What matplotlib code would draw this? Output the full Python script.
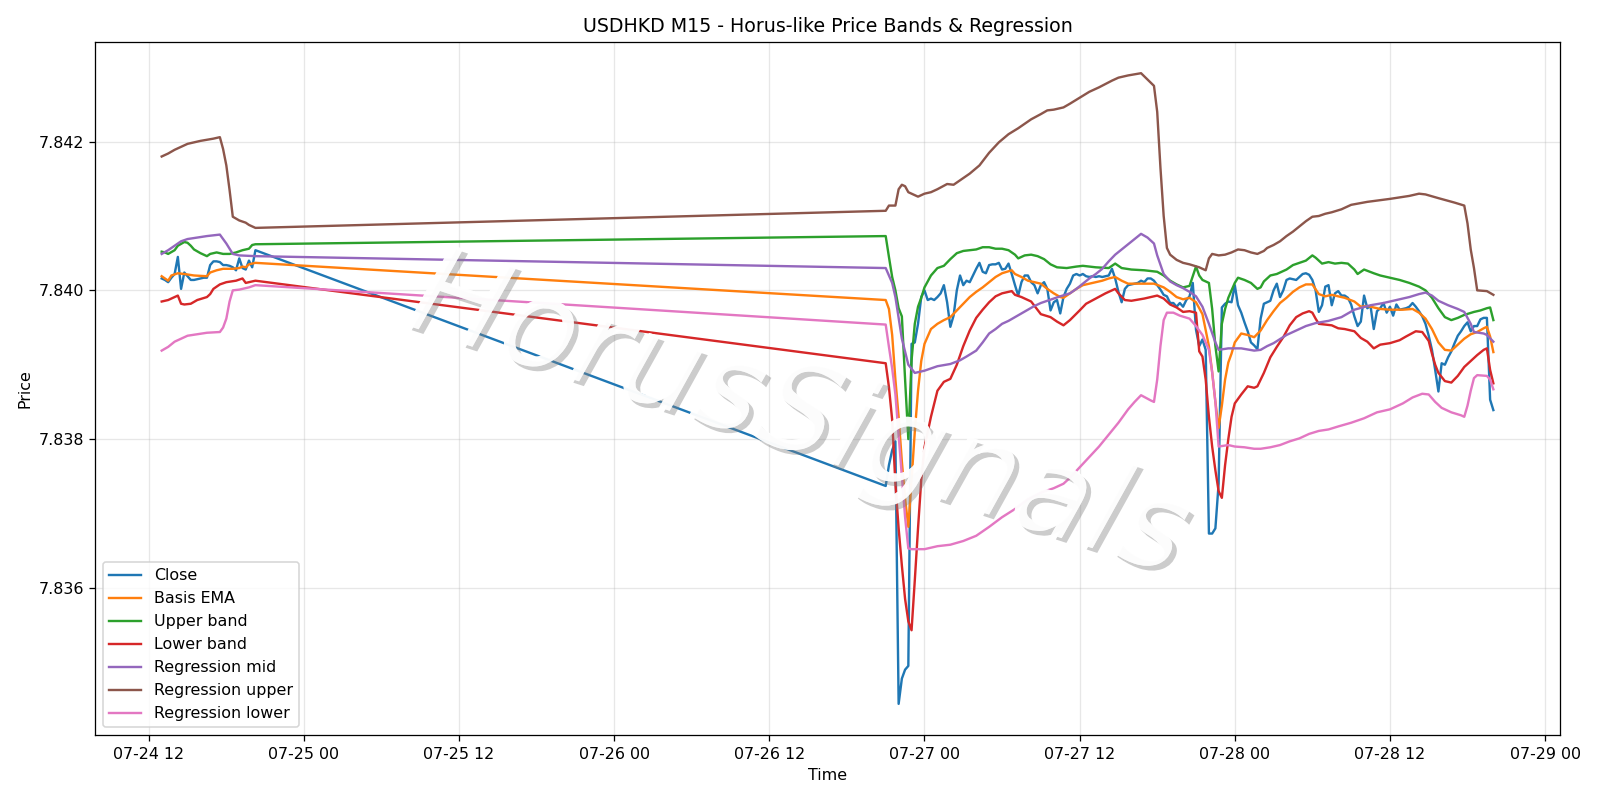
"""
USDHKD M15 - price bands & regression channel (Horus-like)
"""
import numpy as np
import pandas as pd
import matplotlib
matplotlib.use('Agg')
import matplotlib.pyplot as plt
import matplotlib.dates as mdates
import matplotlib.patheffects as pe
from matplotlib.ticker import MultipleLocator, ScalarFormatter

# 起点: 所有时间以 2025-07-24 00:00 起算的小时数
BASE = pd.Timestamp("2025-07-24")

# ---- Close (M15), two sessions ----
close_s1_start = 13.0
close_s1 = [7.84016, 7.84014, 7.84011, 7.84017, 7.84022, 7.84045, 7.84002, 7.84024, 7.84019, 7.84014,
            7.84014, 7.84015, 7.84016, 7.84017, 7.84017, 7.84034, 7.84039, 7.84039, 7.84038, 7.84034,
            7.84034, 7.84033, 7.84031, 7.84027, 7.84043, 7.84030, 7.84028, 7.84040, 7.84031, 7.84054]
close_s2_start = 69.0
close_s2 = [7.83737, 7.83765, 7.83785, 7.83797, 7.83444, 7.83478, 7.83490, 7.83495,
            7.83928, 7.83930, 7.83955, 7.83991, 7.84000, 7.83987, 7.83989, 7.83987,
            7.83991, 7.83996, 7.84007, 7.83984, 7.83951, 7.83966, 7.84000, 7.84020,
            7.84007, 7.84013, 7.84011, 7.84020, 7.84029, 7.84037, 7.84025, 7.84023,
            7.84034, 7.84035, 7.84035, 7.84037, 7.84028, 7.84029, 7.84036, 7.84022,
            7.84007, 7.83993, 7.84011, 7.84020, 7.84020, 7.84011, 7.84007, 7.83996,
            7.84007, 7.84011, 7.84002, 7.83973, 7.83984, 7.83987, 7.83969, 7.83991,
            7.84002, 7.84009, 7.84020, 7.84022, 7.84020, 7.84022, 7.84019, 7.84018,
            7.84019, 7.84018, 7.84019, 7.84018, 7.84019, 7.84020, 7.84029, 7.84016,
            7.83998, 7.83984, 7.84002, 7.84007, 7.84008, 7.84009, 7.84010, 7.84013,
            7.84011, 7.84016, 7.84016, 7.84013, 7.84007, 7.84001, 7.83994, 7.83992,
            7.83983, 7.83983, 7.83978, 7.83983, 7.83978, 7.83987, 7.83992, 7.84010,
            7.83947, 7.83925, 7.83934, 7.83920, 7.83673, 7.83673, 7.83680, 7.83740,
            7.83977, 7.83982, 7.83985, 7.83984, 7.84007, 7.83980, 7.83970, 7.83957,
            7.83945, 7.83930, 7.83926, 7.83921, 7.83962, 7.83982, 7.83984, 7.83986,
            7.84000, 7.84009, 7.83991, 7.84000, 7.84014, 7.84016, 7.84015, 7.84014,
            7.84018, 7.84022, 7.84023, 7.84021, 7.84014, 7.84000, 7.83971, 7.83980,
            7.84005, 7.84007, 7.83980, 7.83996, 7.83999, 7.83993, 7.83993, 7.83990,
            7.83981, 7.83965, 7.83952, 7.83958, 7.83993, 7.83976, 7.83979, 7.83948,
            7.83972, 7.83976, 7.83983, 7.83970, 7.83978, 7.83966, 7.83981, 7.83974,
            7.83975, 7.83976, 7.83978, 7.83983, 7.83978, 7.83972, 7.83965, 7.83955,
            7.83939, 7.83920, 7.83893, 7.83864, 7.83902, 7.83900, 7.83910, 7.83918,
            7.83929, 7.83939, 7.83945, 7.83952, 7.83957, 7.83945, 7.83952, 7.83952,
            7.83961, 7.83963, 7.83963, 7.83853, 7.83839]

# ---- Basis EMA ----
ema_h = [13.0, 13.5, 13.75, 14.25, 14.75, 15.5, 16.5, 16.75, 17.25, 17.75, 18.5, 19.0, 19.25, 19.5, 19.75, 20.25,
         69.0, 69.25, 69.5, 69.75, 70.0, 70.25, 70.5, 70.75, 71.0, 71.25, 71.5, 71.75, 72.0, 72.5, 73.0,
         73.5, 74.0, 74.5, 75.0, 75.5, 76.0, 76.5, 77.0, 77.5, 78.0, 78.75, 79.0, 79.5, 80.0, 81.0, 81.5,
         82.0, 82.5, 82.75, 83.25, 83.75, 84.25, 84.75, 85.25, 85.75, 86.25, 86.75, 87.25, 87.75, 88.75,
         89.75, 90.5, 91.0, 91.5, 92.0, 92.5, 93.0, 93.5, 94.0, 94.25, 94.5, 94.75, 95.0, 95.25, 95.5,
         95.75, 96.0, 96.5, 97.0, 97.5, 98.0, 98.5, 99.0, 99.5, 100.0, 100.5, 101.0, 101.5, 102.0, 102.5,
         103.0, 103.5, 104.0, 104.5, 105.25, 105.75, 106.25, 107.25, 108.0, 109.0, 109.75, 110.25, 110.75,
         111.25, 111.75, 112.25, 112.75, 113.25, 113.75, 114.25, 114.75, 115.25, 115.5, 115.75, 116.0]
ema_v = [7.84019, 7.84013, 7.84020, 7.84023, 7.84022, 7.84020, 7.84019, 7.84024, 7.84027, 7.84029,
         7.84029, 7.84030, 7.84032, 7.84031, 7.84035, 7.84037,
         7.83987, 7.83975, 7.83940, 7.83880, 7.83830, 7.83770, 7.83720, 7.83682, 7.83745, 7.83810,
         7.83865, 7.83905, 7.83928, 7.83948, 7.83955, 7.83960, 7.83964, 7.83973, 7.83982, 7.83991,
         7.83998, 7.84004, 7.84011, 7.84018, 7.84023, 7.84027, 7.84022, 7.84018, 7.84013, 7.84009,
         7.84002, 7.83996, 7.83991, 7.83990, 7.83996, 7.84002, 7.84007, 7.84009, 7.84011, 7.84013,
         7.84016, 7.84018, 7.84013, 7.84009, 7.84009, 7.84009, 7.84004, 7.83998, 7.83991, 7.83988,
         7.83990, 7.83984, 7.83968, 7.83925, 7.83890, 7.83850, 7.83815, 7.83845, 7.83880, 7.83903,
         7.83915, 7.83930, 7.83942, 7.83940, 7.83937, 7.83946, 7.83960, 7.83972, 7.83983, 7.83990,
         7.83998, 7.84004, 7.84008, 7.84008, 7.83995, 7.83992, 7.83994, 7.83992, 7.83990, 7.83985,
         7.83978, 7.83979, 7.83975, 7.83974, 7.83974, 7.83975, 7.83970, 7.83962, 7.83948, 7.83930,
         7.83920, 7.83919, 7.83927, 7.83935, 7.83941, 7.83944, 7.83949, 7.83951, 7.83938, 7.83917]

# ---- Upper band ----
upper_h = [13.0, 13.25, 13.5, 14.0, 14.25, 14.75, 15.0, 15.25, 15.5, 16.0, 16.5, 16.75, 17.25, 17.75,
           18.25, 18.75, 19.25, 19.75, 20.0, 20.25,
           69.0, 69.25, 69.5, 69.75, 70.0, 70.25, 70.5, 70.75, 71.0, 71.25, 71.5, 71.75, 72.0, 72.5,
           73.0, 73.5, 74.0, 74.5, 75.0, 75.5, 76.0, 76.5, 77.0, 77.5, 78.0, 78.5, 79.0, 79.25, 79.75,
           80.25, 80.75, 81.25, 81.75, 82.25, 83.0, 83.75, 84.25, 85.25, 86.25, 86.75, 87.25, 88.0,
           89.0, 90.0, 90.5, 91.0, 91.5, 92.0, 92.5, 93.0, 93.25, 93.5, 94.0, 94.25, 94.5, 94.75, 95.0,
           95.25, 95.5, 96.0, 96.25, 96.75, 97.25, 97.75, 98.0, 98.25, 98.75, 99.25, 100.0, 100.5,
           101.0, 101.5, 102.0, 102.25, 102.75, 103.25, 103.75, 104.25, 104.75, 105.25, 105.5, 106.0,
           106.75, 107.25, 108.0, 108.75, 109.5, 110.25, 110.75, 111.25, 111.75, 112.25, 112.75,
           113.25, 113.75, 114.5, 115.0, 115.5, 115.75, 116.0]
upper_v = [7.84052, 7.84051, 7.84049, 7.84054, 7.84060, 7.84065, 7.84064, 7.84060, 7.84055, 7.84050,
           7.84046, 7.84049, 7.84051, 7.84049, 7.84049, 7.84051, 7.84054, 7.84056, 7.84061, 7.84062,
           7.84073, 7.84045, 7.84018, 7.84000, 7.83976, 7.83965, 7.83880, 7.83800, 7.83906, 7.83955,
           7.83978, 7.83990, 7.84004, 7.84020, 7.84030, 7.84033, 7.84042, 7.84050, 7.84053, 7.84054,
           7.84055, 7.84058, 7.84058, 7.84056, 7.84056, 7.84054, 7.84048, 7.84043, 7.84047, 7.84048,
           7.84046, 7.84042, 7.84035, 7.84031, 7.84030, 7.84032, 7.84033, 7.84031, 7.84030, 7.84036,
           7.84030, 7.84028, 7.84027, 7.84025, 7.84020, 7.84013, 7.84008, 7.84004, 7.84006, 7.84032,
           7.84020, 7.84014, 7.84010, 7.83975, 7.83925, 7.83891, 7.83955, 7.83975, 7.83990, 7.84010,
           7.84017, 7.84014, 7.84010, 7.84002, 7.84004, 7.84012, 7.84020, 7.84022, 7.84028, 7.84034,
           7.84037, 7.84040, 7.84047, 7.84044, 7.84036, 7.84038, 7.84036, 7.84037, 7.84036, 7.84028,
           7.84022, 7.84028, 7.84023, 7.84020, 7.84017, 7.84014, 7.84010, 7.84005, 7.84000, 7.83990,
           7.83976, 7.83964, 7.83960, 7.83963, 7.83967, 7.83971, 7.83973, 7.83976, 7.83977, 7.83960]

# ---- Lower band ----
lower_h = [13.0, 13.5, 14.0, 14.25, 14.5, 14.75, 15.25, 15.75, 16.5, 16.75, 17.0, 17.5, 18.0, 18.75,
           19.25, 19.5, 19.75, 20.25,
           69.0, 69.25, 69.5, 69.75, 70.0, 70.25, 70.5, 70.75, 71.0, 71.25, 71.5, 71.75, 72.0, 72.5,
           73.0, 73.5, 74.0, 74.5, 75.0, 75.5, 76.0, 76.5, 77.0, 77.5, 78.0, 78.75, 79.0, 79.5, 80.25,
           81.0, 81.75, 82.25, 82.75, 83.25, 84.0, 84.5, 85.25, 86.0, 86.75, 87.0, 87.5, 88.0, 89.0,
           90.0, 90.5, 91.0, 91.5, 92.0, 92.5, 93.0, 93.25, 93.5, 93.75, 94.0, 94.25, 94.5, 94.75, 95.0,
           95.25, 95.5, 95.75, 96.0, 96.5, 97.0, 97.5, 97.75, 98.25, 98.75, 99.25, 99.75, 100.25,
           100.75, 101.25, 101.75, 102.0, 102.25, 102.5, 103.0, 103.5, 104.0, 104.5, 105.25, 105.75,
           106.25, 106.75, 107.25, 108.0, 108.75, 109.25, 110.0, 110.5, 111.0, 111.25, 111.5, 111.75,
           112.25, 112.75, 113.25, 113.75, 114.25, 114.75, 115.25, 115.5, 115.75, 116.0]
lower_v = [7.83985, 7.83987, 7.83991, 7.83993, 7.83982, 7.83981, 7.83982, 7.83987, 7.83991, 7.83995,
           7.84002, 7.84008, 7.84011, 7.84013, 7.84016, 7.84010, 7.84011, 7.84013,
           7.83902, 7.83870, 7.83826, 7.83740, 7.83680, 7.83630, 7.83585, 7.83555, 7.83543, 7.83610,
           7.83680, 7.83745, 7.83789, 7.83830, 7.83865, 7.83877, 7.83881, 7.83900, 7.83925, 7.83946,
           7.83963, 7.83974, 7.83984, 7.83992, 7.83996, 7.83999, 7.83994, 7.83991, 7.83985, 7.83968,
           7.83964, 7.83958, 7.83953, 7.83960, 7.83973, 7.83982, 7.83989, 7.83996, 7.84002, 7.83996,
           7.83987, 7.83986, 7.83989, 7.83993, 7.83989, 7.83981, 7.83977, 7.83971, 7.83972, 7.83970,
           7.83918, 7.83911, 7.83880, 7.83830, 7.83790, 7.83758, 7.83730, 7.83721, 7.83765, 7.83800,
           7.83830, 7.83848, 7.83860, 7.83871, 7.83869, 7.83871, 7.83889, 7.83910, 7.83924, 7.83937,
           7.83953, 7.83964, 7.83969, 7.83972, 7.83970, 7.83962, 7.83955, 7.83954, 7.83953, 7.83949,
           7.83948, 7.83945, 7.83936, 7.83931, 7.83922, 7.83927, 7.83929, 7.83933, 7.83938, 7.83945,
           7.83944, 7.83932, 7.83915, 7.83900, 7.83889, 7.83878, 7.83876, 7.83885, 7.83897, 7.83905,
           7.83913, 7.83920, 7.83922, 7.83893, 7.83875]

# ---- Regression mid ----
reg_mid_h = [13.0, 13.5, 14.0, 14.5, 15.0, 15.75, 16.5, 17.5, 18.0, 18.5, 19.0, 20.25,
             69.0, 69.5, 69.75, 70.25, 70.75, 71.25, 72.0, 73.0, 74.0, 74.75, 75.25, 76.0, 76.5, 77.0,
             77.5, 78.0, 78.5, 79.0, 79.5, 80.0, 80.5, 81.0, 81.5, 82.0, 82.5, 83.25, 83.75, 84.25,
             84.75, 85.25, 85.75, 86.25, 86.75, 87.25, 87.75, 88.25, 88.75, 89.25, 89.75, 90.0, 90.5,
             91.0, 91.5, 92.0, 92.5, 93.0, 93.5, 94.0, 94.5, 94.75, 95.5, 96.5, 97.5, 98.0, 98.5, 99.0,
             100.0, 100.75, 101.5, 102.25, 103.25, 104.25, 105.25, 106.5, 107.5, 108.5, 109.5, 110.25,
             110.75, 111.25, 111.75, 112.5, 113.25, 113.75, 114.25, 114.5, 115.25, 115.5, 116.0]
reg_mid_v = [7.84049, 7.84054, 7.84060, 7.84066, 7.84069, 7.84071, 7.84073, 7.84075, 7.84063, 7.84049,
             7.84047, 7.84046,
             7.84030, 7.84010, 7.83991, 7.83935, 7.83900, 7.83889, 7.83892, 7.83898, 7.83901, 7.83906,
             7.83911, 7.83919, 7.83930, 7.83942, 7.83948, 7.83955, 7.83959, 7.83964, 7.83969, 7.83974,
             7.83979, 7.83983, 7.83986, 7.83989, 7.83992, 7.83996, 7.84002, 7.84009, 7.84016, 7.84022,
             7.84029, 7.84039, 7.84048, 7.84055, 7.84062, 7.84069, 7.84076, 7.84071, 7.84063, 7.84047,
             7.84022, 7.84012, 7.84007, 7.84003, 7.83998, 7.83992, 7.83978, 7.83955, 7.83930, 7.83920,
             7.83922, 7.83922, 7.83919, 7.83920, 7.83925, 7.83929, 7.83940, 7.83946, 7.83952, 7.83956,
             7.83959, 7.83964, 7.83974, 7.83980, 7.83983, 7.83987, 7.83991, 7.83995, 7.83997, 7.83993,
             7.83986, 7.83980, 7.83975, 7.83971, 7.83955, 7.83944, 7.83942, 7.83940, 7.83931]

# ---- Regression upper ----
reg_up_h = [13.0, 13.5, 14.0, 14.5, 15.0, 16.0, 17.0, 17.5, 17.75, 18.0, 18.25, 18.5, 19.0, 19.5,
            19.75, 20.25,
            69.0, 69.25, 69.75, 70.0, 70.25, 70.5, 70.75, 71.25, 71.5, 72.0, 72.5, 73.0, 73.75, 74.25,
            74.75, 75.5, 76.25, 77.0, 77.75, 78.5, 79.25, 80.25, 81.0, 81.5, 82.0, 82.75, 83.25, 84.0,
            84.75, 85.5, 86.5, 87.0, 87.75, 88.75, 89.75, 90.0, 90.25, 90.5, 90.75, 91.0, 91.5, 92.0,
            92.5, 93.25, 93.75, 94.0, 94.25, 94.75, 95.25, 95.75, 96.25, 96.75, 97.25, 97.75, 98.25,
            98.5, 99.0, 99.5, 100.0, 100.5, 101.0, 101.5, 102.0, 102.5, 103.0, 103.5, 104.25, 105.0,
            106.25, 108.0, 109.5, 110.25, 110.75, 111.75, 113.0, 113.75, 114.0, 114.25, 114.5, 114.75,
            115.5, 116.0]
reg_up_v = [7.84180, 7.84184, 7.84189, 7.84193, 7.84197, 7.84201, 7.84204, 7.84206, 7.84190, 7.84168,
            7.84135, 7.84099, 7.84094, 7.84091, 7.84088, 7.84084,
            7.84107, 7.84114, 7.84114, 7.84136, 7.84142, 7.84140, 7.84132, 7.84128, 7.84126, 7.84130,
            7.84132, 7.84136, 7.84143, 7.84142, 7.84148, 7.84157, 7.84168, 7.84185, 7.84199, 7.84210,
            7.84218, 7.84230, 7.84237, 7.84242, 7.84243, 7.84246, 7.84251, 7.84259, 7.84267, 7.84273,
            7.84282, 7.84286, 7.84289, 7.84292, 7.84275, 7.84240, 7.84165, 7.84100, 7.84057, 7.84048,
            7.84041, 7.84037, 7.84035, 7.84031, 7.84027, 7.84043, 7.84049, 7.84047, 7.84048, 7.84051,
            7.84055, 7.84054, 7.84051, 7.84049, 7.84053, 7.84057, 7.84061, 7.84066, 7.84073, 7.84079,
            7.84086, 7.84093, 7.84099, 7.84100, 7.84103, 7.84105, 7.84109, 7.84115, 7.84119, 7.84123,
            7.84127, 7.84130, 7.84129, 7.84124, 7.84118, 7.84114, 7.84090, 7.84055, 7.84030, 7.84000,
            7.83999, 7.83994]

# ---- Regression lower ----
reg_lo_h = [13.0, 13.5, 14.0, 14.25, 14.5, 15.0, 15.75, 16.5, 17.5, 17.75, 18.0, 18.25, 18.5, 19.0,
            19.75, 20.25,
            69.0, 69.25, 69.5, 69.75, 70.0, 70.25, 70.5, 70.75, 71.0, 72.0, 73.0, 74.0, 75.0, 76.0,
            77.0, 78.0, 79.0, 80.0, 81.0, 82.0, 82.75, 83.25, 84.0, 84.75, 85.5, 86.25, 87.0, 87.75,
            88.25, 88.75, 89.5, 89.75, 90.0, 90.25, 90.5, 90.75, 91.25, 91.75, 92.5, 93.0, 93.5, 94.0,
            94.25, 94.5, 94.75, 95.5, 96.0, 96.75, 97.5, 98.0, 98.75, 99.5, 100.25, 101.0, 101.75,
            102.5, 103.25, 104.0, 105.0, 106.0, 107.0, 108.0, 109.0, 109.75, 110.5, 111.0, 111.5,
            112.0, 112.75, 113.5, 113.75, 114.0, 114.25, 114.5, 114.75, 115.5, 115.75, 116.0]
reg_lo_v = [7.83919, 7.83924, 7.83931, 7.83933, 7.83935, 7.83939, 7.83941, 7.83943, 7.83944, 7.83950,
            7.83962, 7.83985, 7.84000, 7.84001, 7.84004, 7.84007,
            7.83954, 7.83924, 7.83895, 7.83860, 7.83805, 7.83750, 7.83695, 7.83653, 7.83652, 7.83652,
            7.83656, 7.83658, 7.83663, 7.83670, 7.83682, 7.83695, 7.83706, 7.83719, 7.83728, 7.83734,
            7.83740, 7.83748, 7.83762, 7.83776, 7.83790, 7.83806, 7.83822, 7.83840, 7.83850, 7.83859,
            7.83852, 7.83850, 7.83880, 7.83925, 7.83960, 7.83970, 7.83970, 7.83966, 7.83962, 7.83952,
            7.83940, 7.83920, 7.83890, 7.83850, 7.83790, 7.83792, 7.83790, 7.83789, 7.83787, 7.83787,
            7.83789, 7.83792, 7.83797, 7.83801, 7.83807, 7.83811, 7.83813, 7.83817, 7.83822, 7.83828,
            7.83836, 7.83840, 7.83848, 7.83856, 7.83861, 7.83860, 7.83850, 7.83842, 7.83836, 7.83832,
            7.83830, 7.83845, 7.83865, 7.83882, 7.83886, 7.83885, 7.83880, 7.83867]


def to_time(hours):
    return BASE + pd.to_timedelta(np.asarray(hours, dtype=float), unit="h")


close_t = pd.date_range(BASE + pd.Timedelta(hours=close_s1_start), periods=len(close_s1), freq="15min").append(
    pd.date_range(BASE + pd.Timedelta(hours=close_s2_start), periods=len(close_s2), freq="15min"))
close_v = close_s1 + close_s2

series = [
    (close_t, close_v, "Close"),
    (to_time(ema_h), ema_v, "Basis EMA"),
    (to_time(upper_h), upper_v, "Upper band"),
    (to_time(lower_h), lower_v, "Lower band"),
    (to_time(reg_mid_h), reg_mid_v, "Regression mid"),
    (to_time(reg_up_h), reg_up_v, "Regression upper"),
    (to_time(reg_lo_h), reg_lo_v, "Regression lower"),
]

# 14x7 英寸, 输出 1600x800
fig, ax = plt.subplots(figsize=(14, 7), dpi=800 / 7)
for t, v, label in series:
    ax.plot(t, v, label=label, linewidth=1.5)

ax.set_title("USDHKD M15 - Horus-like Price Bands & Regression")
ax.set_xlabel("Time")
ax.set_ylabel("Price")
ax.grid(True, alpha=0.3)
ax.legend(loc="lower left")

ax.xaxis.set_major_locator(mdates.HourLocator(byhour=[0, 12]))
ax.xaxis.set_major_formatter(mdates.DateFormatter("%m-%d %H"))
ax.yaxis.set_major_locator(MultipleLocator(0.002))
ax.yaxis.set_major_formatter(ScalarFormatter(useOffset=False))

# 水印
ax.text(0.48, 0.46, "HorusSignals", transform=ax.transAxes, fontsize=78, rotation=-18,
        style="italic", ha="center", va="center", color="white", alpha=0.8, zorder=10,
        path_effects=[pe.withSimplePatchShadow(offset=(3, -3), shadow_rgbFace="gray", alpha=0.4),
                      pe.Normal()])

plt.tight_layout()
plt.savefig("out.png", dpi=800 / 7)
plt.close()
